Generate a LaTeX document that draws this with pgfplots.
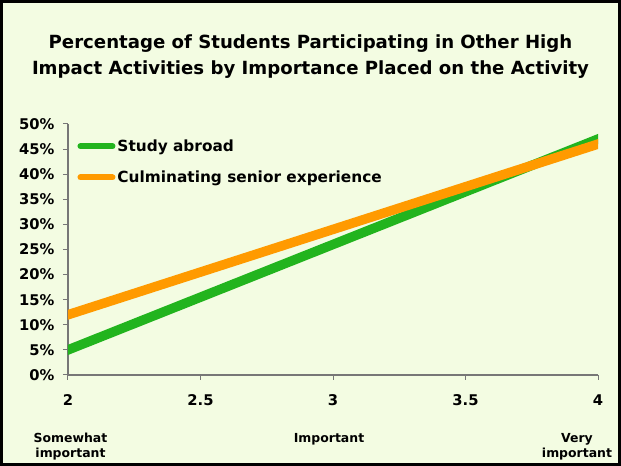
\documentclass[border=0pt]{standalone}
\usepackage{pgfplots}
\pgfplotsset{compat=1.18}
\usepackage{fontspec}
\setmainfont{DejaVu Sans}
\definecolor{bg}{HTML}{F3FCE2}
\definecolor{sgreen}{HTML}{22B41E}
\definecolor{sorange}{HTML}{FF9A00}
\definecolor{axgray}{HTML}{777777}
\begin{document}
\begin{tikzpicture}[x=1bp,y=1bp]
\path[use as bounding box] (-68,-91) rectangle (553,375);
\draw[line width=3bp, fill=bg] (-66.5,-89.5) rectangle (551.5,373.5);
\node[font=\bfseries\fontsize{18.2}{18.2}\selectfont, anchor=base] at (242.5,326)
  {Percentage of Students Participating in Other High};
\node[font=\bfseries\fontsize{18.2}{18.2}\selectfont, anchor=base] at (242.5,300)
  {Impact Activities by Importance Placed on the Activity};
\begin{axis}[
  at={(0,0)}, anchor=south west,
  scale only axis, width=530bp, height=251bp,
  xmin=2, xmax=4, ymin=0, ymax=0.5,
  axis x line=bottom, axis y line=left,
  axis line style={-, axgray, line width=1.2bp},
  tick style={axgray, line width=1bp},
  tick align=outside, major tick length=5bp,
  xtick={2,2.5,3,3.5,4},
  xticklabels={2,2.5,3,3.5,4},
  ytick={0,0.05,0.1,0.15,0.2,0.25,0.3,0.35,0.4,0.45,0.5},
  yticklabels={0\%,5\%,10\%,15\%,20\%,25\%,30\%,35\%,40\%,45\%,50\%},
  ticklabel style={font=\bfseries\fontsize{14.8}{14.8}\selectfont},
  xticklabel style={yshift=-11bp},
  yticklabel style={xshift=-5bp},
  legend style={at={(axis cs:2.035,0.473)}, anchor=north west, draw=none, fill=none,
    font=\bfseries\fontsize{15.4}{15.4}\selectfont, row sep=14bp, inner sep=0pt},
  legend cell align=left,
  legend image code/.code={\draw[#1, line width=6bp, line cap=round] (0bp,0bp) -- (32bp,0bp);},
]
\addplot[sgreen, line width=9.5bp, line cap=rect] coordinates {(2,0.05) (4,0.47)};
\addlegendentry{Study abroad}
\addplot[sorange, line width=9.5bp, line cap=rect] coordinates {(2,0.12) (4,0.46)};
\addlegendentry{Culminating senior experience}
\end{axis}
\begin{scope}[every node/.style={font=\bfseries\fontsize{12.5}{12.5}\selectfont, anchor=base}]
\node at (2.5,-68) {Somewhat};
\node at (2.5,-83) {important};
\node at (261,-68) {Important};
\node at (509,-68) {Very};
\node at (509,-83) {important};
\end{scope}
\end{tikzpicture}
\end{document}
